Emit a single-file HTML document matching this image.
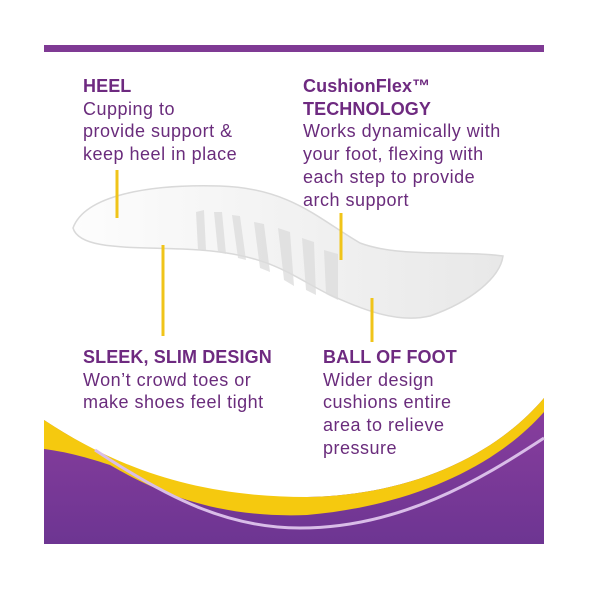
<!DOCTYPE html>
<html><head><style>
body{margin:0;background:#fff;width:600px;height:600px;position:relative;overflow:hidden;font-family:"Liberation Sans",sans-serif;color:#6a2c7c}
.t{position:absolute;font-size:18px;line-height:22.7px;white-space:nowrap;letter-spacing:0.5px}
b{font-weight:bold;color:#6e2a80;letter-spacing:0.1px}
</style></head><body>
<svg width="600" height="600" style="position:absolute;left:0;top:0">
<defs>
<linearGradient id="pg" x1="0" y1="0" x2="0" y2="1"><stop offset="0" stop-color="#8a3e9e"/><stop offset="1" stop-color="#6d3592"/></linearGradient>
<linearGradient id="ig" x1="0" y1="0" x2="1" y2="0"><stop offset="0" stop-color="#fdfdfd"/><stop offset="0.5" stop-color="#f2f2f2"/><stop offset="1" stop-color="#e8e8e8"/></linearGradient>
</defs>
<rect x="44" y="45" width="500" height="7" fill="#7f3a94"/>
<path d="M44 420 C120 470 200 500 307 497 C420 495 500 450 544 398 L544 544 L44 544 Z" fill="url(#pg)"/>
<path d="M44 420 C120 470 200 497 307 497 C420 495 500 450 544 398 L544 412 C500 462 420 505 307 515 C230 518 170 500 110 465 C80 455 60 451 44 449 Z" fill="#f5c90f"/>
<path d="M95 450 C170 500 230 528 300 528 C400 528 480 480 544 438" fill="none" stroke="#d9bde8" stroke-width="3"/>
<path d="M73 228 C85 195 150 184 220 186 C290 188 320 220 360 243 C400 258 460 250 503 256 C500 278 470 302 430 316 C395 324 360 308 330 295 C290 275 270 255 200 250 C140 246 80 252 73 228 Z" fill="url(#ig)" stroke="#d9d9d9" stroke-width="1.5"/>
<g fill="#dcdcdc" opacity="0.75">
<path d="M196 212 L204 210 L206 250 L198 250Z"/><path d="M214 212 L222 212 L226 254 L218 252Z"/>
<path d="M232 215 L240 216 L246 260 L238 258Z"/><path d="M254 222 L264 224 L270 272 L260 268Z"/>
<path d="M278 228 L290 232 L294 286 L284 280Z"/><path d="M302 238 L314 242 L316 295 L306 290Z"/>
<path d="M324 250 L338 254 L338 300 L326 294Z"/>
</g>
<g stroke="#f0c419" stroke-width="3">
<line x1="117" y1="170" x2="117" y2="218"/><line x1="163" y1="245" x2="163" y2="336"/>
<line x1="341" y1="213" x2="341" y2="260"/><line x1="372" y1="298" x2="372" y2="342"/>
</g>
</svg>
<div class="t" style="left:83px;top:75px"><b>HEEL</b><br>Cupping to<br>provide support &amp;<br>keep heel in place</div>
<div class="t" style="left:303px;top:75px"><b>CushionFlex™<br>TECHNOLOGY</b><br>Works dynamically with<br>your foot, flexing with<br>each step to provide<br>arch support</div>
<div class="t" style="left:83px;top:346px"><b>SLEEK, SLIM DESIGN</b><br>Won’t crowd toes or<br>make shoes feel tight</div>
<div class="t" style="left:323px;top:346px"><b>BALL OF FOOT</b><br>Wider design<br>cushions entire<br>area to relieve<br>pressure</div>
</body></html>
